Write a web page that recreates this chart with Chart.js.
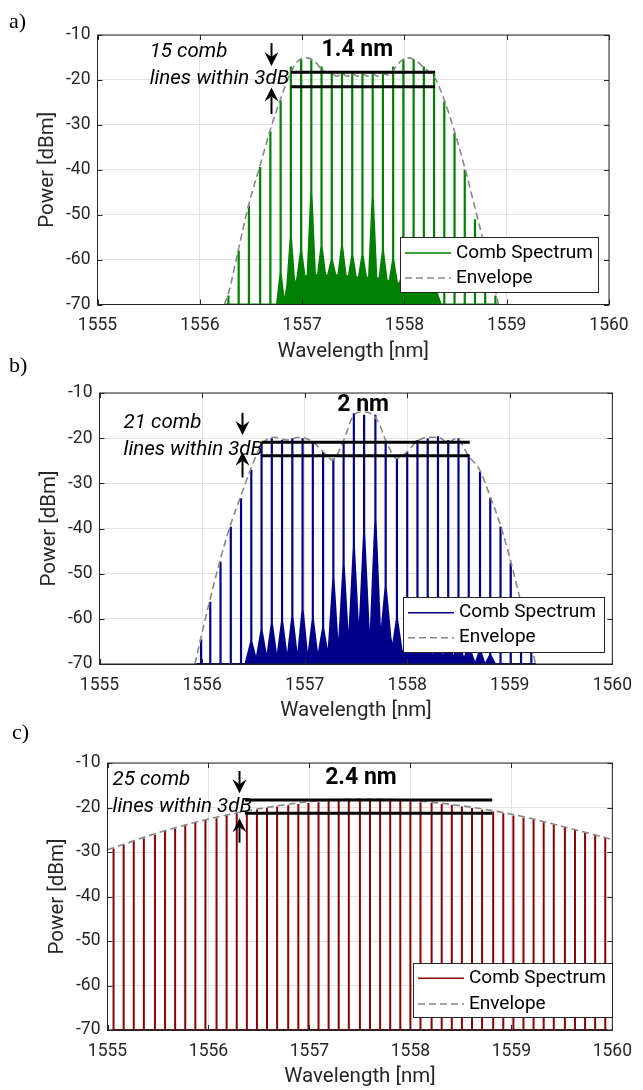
<!DOCTYPE html>
<html>
<head>
<meta charset="utf-8">
<script src="https://cdn.jsdelivr.net/npm/chart.js@4.4.1/dist/chart.umd.min.js"></script>
<style>
  html, body { margin: 0; padding: 0; background: #fff; }
  #wrap { position: relative; width: 643px; height: 1090px; overflow: hidden; }
  #wrap canvas { position: absolute; left: 0; top: 0; }
  .tag { position: absolute; font-family: 'Liberation Serif', serif; font-size: 22px; line-height: 25px; color: #000; }
</style>
</head>
<body>
<div id="wrap">
  <canvas id="chartA" width="643" height="1090"></canvas>
  <canvas id="chartB" width="643" height="1090"></canvas>
  <canvas id="chartC" width="643" height="1090"></canvas>
  <div class="tag" style="left:9px;top:8px">a)</div>
  <div class="tag" style="left:9px;top:352px">b)</div>
  <div class="tag" style="left:12px;top:719px">c)</div>
</div>
<script>
// shared axes
const xTicks = [1555, 1556, 1557, 1558, 1559, 1560];
const yTicks = [-70, -60, -50, -40, -30, -20, -10];
const legendLabels = ['Comb Spectrum', 'Envelope'];

// ---- panel a ----
const combA_nm = [1556.28, 1556.38, 1556.48, 1556.59, 1556.69, 1556.79, 1556.89, 1556.99, 1557.09, 1557.19,
  1557.29, 1557.39, 1557.49, 1557.59, 1557.69, 1557.79, 1557.89, 1557.99, 1558.09, 1558.19,
  1558.29, 1558.39, 1558.49, 1558.59, 1558.69, 1558.79, 1558.89];
const combA_peak = [-68, -58, -48, -39.4, -31.5, -24.5, -17, -15.4, -15.6, -17,
  -18.3, -18.5, -18.5, -18.5, -18.5, -18.5, -17, -15.4, -15.4, -17,
  -18.6, -24.8, -31.8, -40, -51, -58, -68];
const combA_skirt = [-70, -70, -70, -70, -70, -63, -55, -58, -45, -57,
  -60, -57, -59, -59, -46, -58, -60, -62, -63, -64,
  -65, -70, -70, -70, -70, -70, -70];
const combA_floor = [-70, -70, -70, -70, -70, -70, -66, -64, -63.5, -63.5,
  -63.5, -63.5, -64, -64, -64, -64.5, -65, -65.5, -66, -66.5,
  -68, -70, -70, -70, -70, -70, -70];
const envA_nm = [1556.24, 1556.28, 1556.38, 1556.48, 1556.59, 1556.69, 1556.79, 1556.89, 1556.96, 1557.04,
  1557.12, 1557.2, 1557.3, 1557.34, 1557.39, 1557.44, 1557.49, 1557.54, 1557.59, 1557.64,
  1557.69, 1557.74, 1557.79, 1557.84, 1557.9, 1557.97, 1558.04, 1558.12, 1558.2, 1558.29,
  1558.39, 1558.49, 1558.59, 1558.69, 1558.79, 1558.89, 1558.92];
const envA_dBm = [-70, -67.5, -57.5, -47.6, -39, -31, -24.2, -18.3, -15.8, -15.1,
  -15.8, -17.8, -18.7, -19.2, -18.6, -19.2, -18.6, -19.2, -18.6, -19.2,
  -18.6, -19.2, -18.6, -18.9, -17.6, -15.7, -15.1, -15.8, -17.5, -19.2,
  -24.5, -31.5, -39.5, -48.5, -57.5, -67, -70];
const bandA_nm = [1556.89, 1558.30];
const bandA_dBm = [-18.3, -21.5];
const notesA = ['15 comb', 'lines within 3dB', '1.4 nm'];

// ---- panel b ----
const combB_nm = [1555.99, 1556.08, 1556.18, 1556.28, 1556.38, 1556.48, 1556.58, 1556.68, 1556.78, 1556.88,
  1556.98, 1557.08, 1557.18, 1557.28, 1557.38, 1557.48, 1557.58, 1557.69, 1557.79, 1557.90,
  1558.00, 1558.10, 1558.20, 1558.30, 1558.40, 1558.50, 1558.60, 1558.71, 1558.81, 1558.91,
  1559.01, 1559.11, 1559.21];
const combB_peak = [-64.6, -56.2, -47.3, -39.6, -33.3, -27, -21.1, -20, -20.4, -20,
  -20, -20.8, -23, -24.5, -20.8, -14.5, -14.8, -14.8, -20.8, -24.5,
  -23, -20.4, -20, -19.6, -20.4, -20, -24.1, -27.4, -33.3, -39.6,
  -47.7, -56, -64];
const combB_skirt = [-70, -70, -70, -70, -70, -65, -62.5, -61, -60.5, -59.5,
  -58, -60, -62, -51, -48, -44, -41, -38, -53, -60,
  -63, -62, -63, -64, -64, -65, -66, -67, -68, -70,
  -70, -70, -70];
const combB_floor = [-70, -70, -70, -70, -70, -69, -68.5, -68.5, -68.5, -68.5,
  -68.5, -68.5, -68, -67, -66, -64, -63, -63, -64, -67,
  -68.5, -68.5, -68.5, -68.5, -68.5, -68.5, -69, -70, -70, -70,
  -70, -70, -70];
const envB_nm = [1555.93, 1555.99, 1556.08, 1556.18, 1556.28, 1556.38, 1556.48, 1556.58, 1556.7, 1556.83,
  1556.95, 1557.08, 1557.18, 1557.27, 1557.38, 1557.47, 1557.55, 1557.65, 1557.72, 1557.8,
  1557.9, 1558.0, 1558.1, 1558.22, 1558.3, 1558.4, 1558.48, 1558.6, 1558.71, 1558.81,
  1558.91, 1559.01, 1559.11, 1559.21, 1559.25];
const envB_dBm = [-70, -64, -55.5, -46.7, -39, -32.7, -26.5, -21.5, -19.8, -20.4,
  -19.8, -20.8, -23, -24.8, -20.5, -15.2, -14.2, -14.6, -16.5, -21,
  -24.5, -23, -20.6, -19.8, -19.8, -21, -20, -24, -27.2, -33,
  -39.3, -47.3, -56.5, -65.5, -70];
const bandB_nm = [1556.58, 1558.61];
const bandB_dBm = [-20.9, -23.9];
const notesB = ['21 comb', 'lines within 3dB', '2 nm'];

// ---- panel c ----
const combC_nm = [1555.06, 1555.16, 1555.26, 1555.36, 1555.47, 1555.57, 1555.67, 1555.77, 1555.87, 1555.97,
  1556.08, 1556.18, 1556.28, 1556.38, 1556.48, 1556.58, 1556.68, 1556.79, 1556.89, 1556.99,
  1557.09, 1557.19, 1557.29, 1557.39, 1557.50, 1557.60, 1557.70, 1557.80, 1557.90, 1558.00,
  1558.10, 1558.21, 1558.31, 1558.41, 1558.51, 1558.61, 1558.71, 1558.82, 1558.92, 1559.02,
  1559.12, 1559.22, 1559.32, 1559.42, 1559.53, 1559.63, 1559.73, 1559.83, 1559.93];
const combC_peak = [-29.2, -28.4, -27.5, -26.9, -26.2, -25.1, -24.7, -23.9, -23.5, -22.8,
  -22.4, -21.7, -21.3, -20.9, -20.5, -20.1, -19.8, -19.5, -19.2, -19.0,
  -18.8, -18.6, -18.5, -18.4, -18.3, -18.3, -18.3, -18.4, -18.5, -18.6,
  -18.8, -19.0, -19.2, -19.4, -19.8, -20.1, -20.5, -20.9, -21.3, -21.8,
  -22.3, -22.8, -23.3, -23.8, -24.4, -25.0, -25.6, -26.2, -26.8];
const envC_nm = [1555.0, 1555.5, 1556.0, 1556.5, 1557.0, 1557.5, 1558.0, 1558.5, 1559.0, 1559.5, 1560.0];
const envC_dBm = [-29.5, -25.7, -22.6, -20.3, -18.7, -18.1, -18.4, -19.6, -21.5, -24.2, -27.2];
const bandC_nm = [1556.36, 1558.81];
const bandC_dBm = [-18.3, -21.3];
const notesC = ['25 comb', 'lines within 3dB', '2.4 nm'];

Chart.defaults.font.family = 'Roboto';
const AXIS = '#262626';
const ENV = '#878787';

function combPoints(nm, peak, skirt, floor, hw) {
  const pts = [];
  nm.forEach((x, i) => {
    const s = skirt ? skirt[i] : -70;
    const f = floor ? floor[i] : -70;
    pts.push({ x: x - hw, y: f });
    pts.push({ x: x, y: s });
    pts.push({ x: x, y: peak[i] });
    pts.push({ x: x, y: s });
    pts.push({ x: x + hw, y: f });
  });
  return pts;
}

function xy(xs, ys) {
  return xs.map((x, i) => ({ x: x, y: ys[i] }));
}

// arrow with a swept-back head, tip at yTo
function drawArrow(ctx, x, yFrom, yTo) {
  const dir = Math.sign(yTo - yFrom);
  const L = 14, W = 7, notch = 5;
  ctx.lineWidth = 2;
  ctx.beginPath();
  ctx.moveTo(x, yFrom);
  ctx.lineTo(x, yTo - dir * (L - notch));
  ctx.stroke();
  ctx.beginPath();
  ctx.moveTo(x, yTo);
  ctx.lineTo(x - W, yTo - dir * L);
  ctx.lineTo(x, yTo - dir * (L - notch));
  ctx.lineTo(x + W, yTo - dir * L);
  ctx.closePath();
  ctx.fill();
}

const decor = {
  id: 'decor',
  afterDatasetsDraw(chart, args, o) {
    const { ctx, chartArea: a, scales: { x, y } } = chart;
    ctx.save();
    ctx.strokeStyle = AXIS;
    ctx.lineWidth = 1;
    ctx.strokeRect(a.left, a.top, a.right - a.left, a.bottom - a.top);
    ctx.beginPath();
    xTicks.forEach(v => {
      const px = Math.round(x.getPixelForValue(v)) + 0.5;
      ctx.moveTo(px, a.bottom); ctx.lineTo(px, a.bottom - 5);
      ctx.moveTo(px, a.top); ctx.lineTo(px, a.top + 5);
    });
    yTicks.forEach(v => {
      const py = Math.round(y.getPixelForValue(v)) + 0.5;
      ctx.moveTo(a.left, py); ctx.lineTo(a.left + 5, py);
      ctx.moveTo(a.right, py); ctx.lineTo(a.right - 5, py);
    });
    ctx.stroke();

    // annotation text
    ctx.fillStyle = '#000';
    ctx.textBaseline = 'middle';
    ctx.textAlign = 'left';
    ctx.font = 'italic 20.5px Roboto';
    ctx.fillText(o.notes[0], x.getPixelForValue(o.noteX), y.getPixelForValue(o.noteY[0]));
    ctx.fillText(o.notes[1], x.getPixelForValue(o.noteX), y.getPixelForValue(o.noteY[1]));
    ctx.font = 'bold 23px Roboto';
    ctx.textAlign = 'center';
    ctx.fillText(o.notes[2], x.getPixelForValue(o.widthX), y.getPixelForValue(o.widthY));

    // arrows
    ctx.strokeStyle = '#000';
    const ax = Math.round(x.getPixelForValue(o.arrowX)) + 0.5;
    drawArrow(ctx, ax, y.getPixelForValue(o.arrowDown[0]), y.getPixelForValue(o.arrowDown[1]));
    drawArrow(ctx, ax, y.getPixelForValue(o.arrowUp[0]), y.getPixelForValue(o.arrowUp[1]));

    // legend box
    const L = o.legend;
    ctx.fillStyle = '#fff';
    ctx.fillRect(L.x, L.y, L.w, L.h);
    ctx.strokeStyle = AXIS;
    ctx.lineWidth = 1;
    ctx.strokeRect(L.x + 0.5, L.y + 0.5, L.w, L.h);
    ctx.lineWidth = 1.5;
    ctx.strokeStyle = o.color;
    ctx.beginPath();
    ctx.moveTo(L.x + 5, L.row1); ctx.lineTo(L.x + 51, L.row1);
    ctx.stroke();
    ctx.strokeStyle = ENV;
    ctx.setLineDash([7, 4]);
    ctx.beginPath();
    ctx.moveTo(L.x + 5, L.row2); ctx.lineTo(L.x + 51, L.row2);
    ctx.stroke();
    ctx.setLineDash([]);
    ctx.fillStyle = '#000';
    ctx.font = '19px Roboto';
    ctx.textAlign = 'left';
    ctx.fillText(legendLabels[0], L.x + 56, L.row1);
    ctx.fillText(legendLabels[1], L.x + 56, L.row2);
    ctx.restore();
  }
};

function makeChart(p) {
  const W = 643, H = 1090, XH = 60;
  new Chart(document.getElementById(p.id), {
    type: 'line',
    data: {
      datasets: [
        { data: xy(p.band, [p.bandY[0], p.bandY[0]]), borderColor: '#000', borderWidth: 3, pointRadius: 0, fill: false, order: 0 },
        { data: xy(p.band, [p.bandY[1], p.bandY[1]]), borderColor: '#000', borderWidth: 3, pointRadius: 0, fill: false, order: 0 },
        { data: p.env, borderColor: ENV, borderDash: [7, 4], borderWidth: 1.6, pointRadius: 0, fill: false, cubicInterpolationMode: 'monotone', order: 1 },
        { data: p.comb, borderColor: p.color, backgroundColor: p.color, borderWidth: p.lw, pointRadius: 0, fill: 'start', tension: 0, order: 2 }
      ]
    },
    options: {
      responsive: false,
      animation: false,
      events: [],
      layout: { padding: { left: 0, top: p.area.top, right: W - p.area.right, bottom: H - p.area.bottom - XH } },
      scales: {
        x: {
          type: 'linear', min: 1555, max: 1560,
          afterBuildTicks: s => { s.ticks = xTicks.map(v => ({ value: v })); },
          afterFit: s => { s.height = XH; },
          grid: { color: '#e2e2e2', drawTicks: false },
          border: { color: AXIS, width: 1 },
          ticks: { color: AXIS, font: { size: 17.5 }, padding: 11, maxRotation: 0, callback: v => String(v) },
          title: { display: true, text: 'Wavelength [nm]', color: AXIS, font: { size: 20.5 }, padding: { top: 0, bottom: 0.5 } }
        },
        y: {
          min: -70, max: -10,
          afterBuildTicks: s => { s.ticks = yTicks.map(v => ({ value: v })); },
          afterFit: s => { s.width = p.area.left; },
          grid: { color: '#e2e2e2', drawTicks: false },
          border: { color: AXIS, width: 1 },
          ticks: { color: AXIS, font: { size: 17.5 }, padding: 7, callback: v => String(v) },
          title: { display: true, text: 'Power [dBm]', color: AXIS, font: { size: 20.5 }, padding: { top: p.area.left - 62.3, bottom: 0 } }
        }
      },
      plugins: {
        legend: { display: false },
        tooltip: { enabled: false },
        decor: p.decor
      }
    },
    plugins: [decor]
  });
}

makeChart({
  id: 'chartA', color: '#008000', lw: 2.2,
  area: { left: 97.5, right: 609, top: 35, bottom: 304.5 },
  comb: combPoints(combA_nm, combA_peak, combA_skirt, combA_floor, 0.035),
  env: xy(envA_nm, envA_dBm), band: bandA_nm, bandY: bandA_dBm,
  decor: {
    color: '#008000', notes: notesA, noteX: 1555.51, noteY: [-13.8, -19.8], widthX: 1557.54, widthY: -13.3,
    arrowX: 1556.70, arrowDown: [-11.8, -16.9], arrowUp: [-27.6, -21.7],
    legend: { x: 400, y: 237, w: 198, h: 55, row1: 253, row2: 278 }
  }
});

makeChart({
  id: 'chartB', color: '#00008b', lw: 2.2,
  area: { left: 99.5, right: 615, top: 393, bottom: 664 },
  comb: combPoints(combB_nm, combB_peak, combB_skirt, combB_floor, 0.045),
  env: xy(envB_nm, envB_dBm), band: bandB_nm, bandY: bandB_dBm,
  decor: {
    color: '#00008b', notes: notesB, noteX: 1555.235, noteY: [-16.7, -22.6], widthX: 1557.57, widthY: -12.65,
    arrowX: 1556.39, arrowDown: [-14.4, -19.3], arrowUp: [-28.7, -23.0],
    legend: { x: 403, y: 597, w: 201, h: 55, row1: 612.7, row2: 637.7 }
  }
});

makeChart({
  id: 'chartC', color: '#8b0000', lw: 2,
  area: { left: 107.5, right: 622, top: 763, bottom: 1030 },
  comb: combPoints(combC_nm, combC_peak, null, null, 0.02),
  env: xy(envC_nm, envC_dBm), band: bandC_nm, bandY: bandC_dBm,
  decor: {
    color: '#8b0000', notes: notesC, noteX: 1555.05, noteY: [-13.8, -19.8], widthX: 1557.51, widthY: -13.4,
    arrowX: 1556.30, arrowDown: [-11.8, -16.8], arrowUp: [-27.9, -22.4],
    legend: { x: 413, y: 963, w: 199, h: 54, row1: 978.3, row2: 1004 }
  }
});
</script>
</body>
</html>
